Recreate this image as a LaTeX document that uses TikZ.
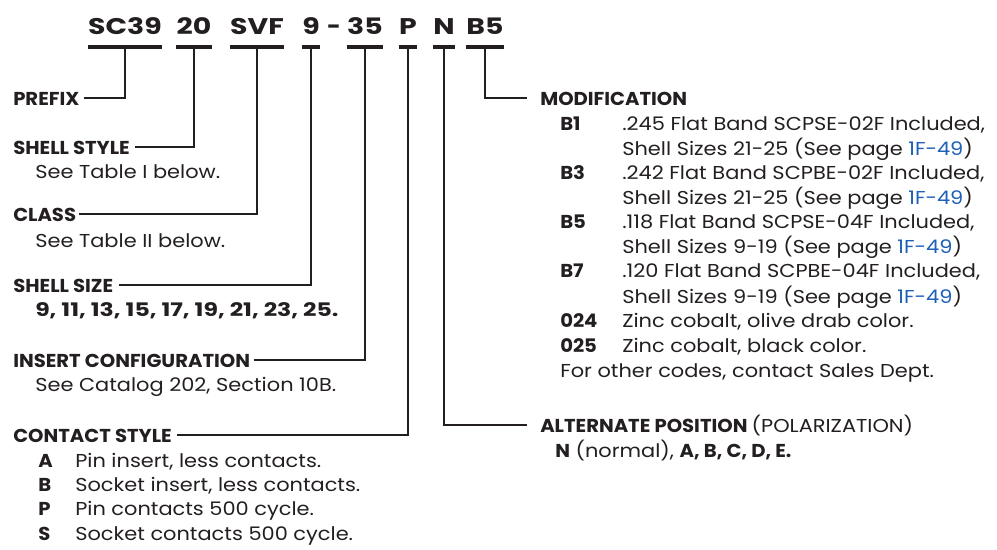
\documentclass[tikz,border=0pt]{standalone}
\usepackage{fontspec}
\setmainfont{Poppins}[FakeStretch=1.12]
\newfontfamily\headfont{Poppins}[FakeStretch=1.05]
\newfontfamily\codefont{Poppins}[FakeStretch=1.25]
\newfontfamily\sizefont{Poppins}[FakeStretch=1.26]
\usetikzlibrary{calc}
\definecolor{inkgray}{RGB}{35,31,32}
\definecolor{pageblue}{RGB}{30,95,185}
\pgfkeys{tikz/codetext/.style={anchor=base,font=\codefont\fontsize{17}{20}\selectfont\bfseries,inner sep=0pt,text=inkgray}}
\pgfkeys{tikz/head/.style={anchor=base west,inner sep=0pt,font=\headfont\fontsize{14}{16}\selectfont\bfseries,text=inkgray}}
\pgfkeys{tikz/body/.style={anchor=base west,inner sep=0pt,font=\fontsize{14}{16}\selectfont,text=inkgray}}
\pgfkeys{tikz/bar/.style={line width=3.6pt,draw=inkgray}}
\pgfkeys{tikz/leader/.style={line width=1.5pt,draw=inkgray}}
\newcommand{\pg}{\textcolor{pageblue}{1F-49}}

\begin{document}
\begin{tikzpicture}[x=0.75pt,y=0.75pt]
\useasboundingbox (0,0) rectangle (997,-550);
% part number
\draw (125,-34) node[codetext] (sc) {SC39};
\draw (194,-34) node[codetext] (ss) {20};
\draw (257,-34) node[codetext] (cl) {SVF};
\draw (311,-34) node[codetext] (sz) {9};
\draw (334,-34) node[codetext,font=\headfont\fontsize{17}{20}\selectfont\bfseries] (dash) {-};
\draw (365,-34) node[codetext] (ic) {35};
\draw (408,-34) node[codetext] (cs) {P};
\draw (444,-34) node[codetext] (ap) {N};
\draw (485,-34) node[codetext] (md) {B5};
\coordinate (barY) at (0,-47);
\draw[bar] (sc.west |- barY)--(sc.east |- barY);
\draw[bar] (ss.west |- barY)--(ss.east |- barY);
\draw[bar] (cl.west |- barY)--(cl.east |- barY);
\draw[bar] (sz.west |- barY)--(sz.east |- barY);
\draw[bar] (ic.west |- barY)--(ic.east |- barY);
\draw[bar] (cs.west |- barY)--(cs.east |- barY);
\draw[bar] (ap.west |- barY)--(ap.east |- barY);
\draw[bar] (md.west |- barY)--(md.east |- barY);
% left column
\draw (13,-105) node[head] (prefix) {PREFIX};
\draw (13,-154) node[head] (shellstyle) {SHELL STYLE};
\draw (35,-178) node[body] (shellstyle1) {See Table I below.};
\draw (13,-221) node[head] (class) {CLASS};
\draw (35,-247) node[body] (class1) {See Table II below.};
\draw (13,-292) node[head] (shellsize) {SHELL SIZE};
\draw (35,-316) node[body] (shellsize1) {\sizefont\bfseries 9, 11, 13, 15, 17, 19, 21, 23, 25.};
\draw (13,-367) node[head] (insert) {INSERT CONFIGURATION};
\draw (35,-391) node[body] (insert1) {See Catalog 202, Section 10B.};
\draw (13,-442) node[head] (contact) {CONTACT STYLE};
\draw (38,-467) node[head] (contA) {A};
\draw (75,-467) node[body] (contA1) {Pin insert, less contacts.};
\draw (38,-491) node[head] (contB) {B};
\draw (75,-491) node[body] (contB1) {Socket insert, less contacts.};
\draw (38,-515) node[head] (contP) {P};
\draw (75,-515) node[body] (contP1) {Pin contacts 500 cycle.};
\draw (38,-540) node[head] (contS) {S};
\draw (75,-540) node[body] (contS1) {Socket contacts 500 cycle.};
% right column
\draw (540,-105) node[head] (modif) {MODIFICATION};
\draw (560,-130) node[head] (modB1) {B1};
\draw (622,-130) node[body] (modB1a) {.245 Flat Band SCPSE-02F Included,};
\draw (622,-155) node[body] (modB1b) {Shell Sizes 21-25 (See page \pg)};
\draw (560,-179) node[head] (modB3) {B3};
\draw (622,-179) node[body] (modB3a) {.242 Flat Band SCPBE-02F Included,};
\draw (622,-204) node[body] (modB3b) {Shell Sizes 21-25 (See page \pg)};
\draw (560,-228) node[head] (modB5) {B5};
\draw (622,-228) node[body] (modB5a) {.118 Flat Band SCPSE-04F Included,};
\draw (622,-253) node[body] (modB5b) {Shell Sizes 9-19 (See page \pg)};
\draw (560,-277) node[head] (modB7) {B7};
\draw (622,-277) node[body] (modB7a) {.120 Flat Band SCPBE-04F Included,};
\draw (622,-303) node[body] (modB7b) {Shell Sizes 9-19 (See page \pg)};
\draw (560,-327) node[head] (mod24) {024};
\draw (622,-327) node[body] (mod24a) {Zinc cobalt, olive drab color.};
\draw (560,-352) node[head] (mod25) {025};
\draw (622,-352) node[body] (mod25a) {Zinc cobalt, black color.};
\draw (560,-377) node[body] (modother) {For other codes, contact Sales Dept.};
\draw (540,-432) node[head] (alt) {ALTERNATE POSITION {\normalfont\mdseries\fontsize{14}{16}\selectfont(POLARIZATION)}};
\draw (555,-457) node[body] (alt1) {{\headfont\bfseries N} (normal), {\headfont\bfseries A, B, C, D, E.}};
% leaders
\draw[leader] ([xshift=3pt]prefix.east) -| (sc |- barY);
\draw[leader] ([xshift=4pt]shellstyle.east) -| (ss |- barY);
\draw[leader] ([xshift=2pt]class.east) -| (cl |- barY);
\draw[leader] ([xshift=4pt]shellsize.east) -| (sz |- barY);
\draw[leader] ([xshift=3pt]insert.east) -| (ic |- barY);
\draw[leader] ([xshift=4pt]contact.east) -| (cs |- barY);
\draw[leader] (md |- barY) |- ([xshift=-10pt]modif.west);
\draw[leader] (ap |- barY) |- ([xshift=-10pt]alt.west);
\end{tikzpicture}
\end{document}
